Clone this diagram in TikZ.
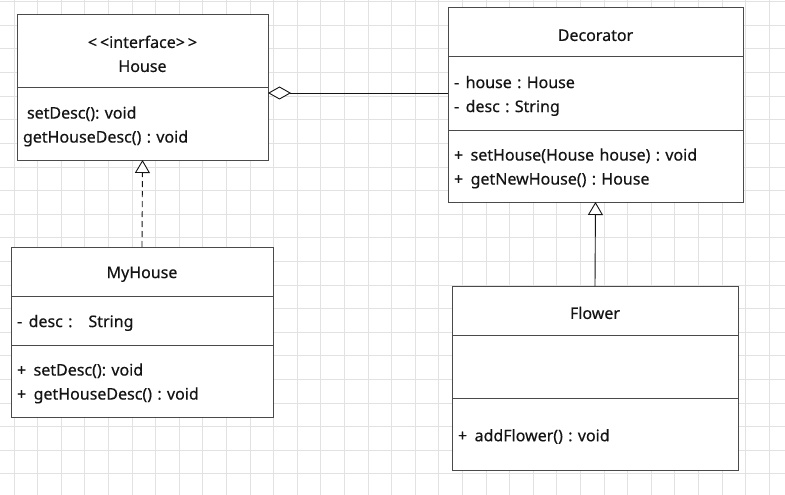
\documentclass[tikz,border=0pt]{standalone}
\usepackage{fontspec}
\setmainfont{Noto Sans}[FakeBold=0.4]
\usetikzlibrary{arrows.meta,positioning,shadows}
\definecolor{boxline}{HTML}{4A4A4A}
\definecolor{gridline}{HTML}{E2E2E2}
\definecolor{ink}{HTML}{141414}
\frenchspacing

\tikzset{
  part/.style={draw=boxline,fill=white,line width=1pt,outer sep=0pt,
    inner xsep=6pt,inner ysep=0pt,align=left,text=ink,text height=17pt,
    font=\fontsize{16}{24}\selectfont,
    drop shadow={shadow xshift=1.2pt,shadow yshift=-1.2pt,fill=black,opacity=0.3}},
  title/.style={part,align=center},
  link/.style={draw=ink,line width=0.9pt},
  realize/.style={link,dash pattern=on 6pt off 4pt,-{Triangle[open,fill=white,length=13pt,width=15pt]}},
  inherit/.style={link,-{Triangle[open,fill=white,length=13pt,width=15pt]}},
  aggr/.style={link,{Diamond[open,fill=white,length=23pt,width=13pt]}-}
}

\begin{document}
\begin{tikzpicture}[x=1pt,y=-1pt]
\useasboundingbox[fill=white] (0,0) rectangle (785,495);
\foreach \i in {0,...,32} \draw[gridline,line width=0.8pt] (14+23.6*\i,0) -- (14+23.6*\i,495);
\foreach \j in {0,...,20} \draw[gridline,line width=0.8pt] (0,1.7+23.6*\j) -- (785,1.7+23.6*\j);

\node[title,text width=239pt,minimum height=73pt,anchor=north west] (house-name) at (17,15) {<\hspace{3pt}<interface>\hspace{3pt}>\\House};
\node[part,text width=239pt,minimum height=72pt,below=0pt of house-name] (house-ops) {\hspace{4pt}setDesc(): void\\getHouseDesc() : void};

\node[title,text width=283pt,minimum height=49pt,anchor=north west] (dec-name) at (448,8) {Decorator};
\node[part,text width=283pt,minimum height=73pt,below=0pt of dec-name] (dec-attr) {-\hspace{6.5pt}house : House\\-\hspace{6.5pt}desc : String};
\node[part,text width=283pt,minimum height=72pt,below=0pt of dec-attr] (dec-ops) {+\hspace{7.5pt}setHouse(House house) : void\\+\hspace{7.5pt}getNewHouse() : House};

\node[title,text width=250pt,minimum height=49pt,anchor=north west] (my-name) at (11,247) {MyHouse};
\node[part,text width=250pt,minimum height=49pt,below=0pt of my-name] (my-attr) {-\hspace{6.5pt}desc :\ \ \ String};
\node[part,text width=250pt,minimum height=72pt,below=0pt of my-attr] (my-ops) {+\hspace{7.5pt}setDesc(): void\\+\hspace{7.5pt}getHouseDesc() : void};

\node[title,text width=274pt,minimum height=49pt,anchor=north west] (flower-name) at (452,286) {Flower};
\node[part,text width=274pt,minimum height=63pt,below=0pt of flower-name] (flower-attr) {};
\node[part,text width=274pt,minimum height=72pt,below=0pt of flower-attr] (flower-ops) {+\hspace{7.5pt}addFlower() : void};

\coordinate (agg) at ([yshift=-5pt]house-ops.north east);
\draw[aggr] (agg) -- (agg -| dec-attr.west);
\draw[realize] (my-name.north) -- (house-ops.south);
\draw[inherit] (flower-name.north) -- (dec-ops.south);
\end{tikzpicture}
\end{document}
